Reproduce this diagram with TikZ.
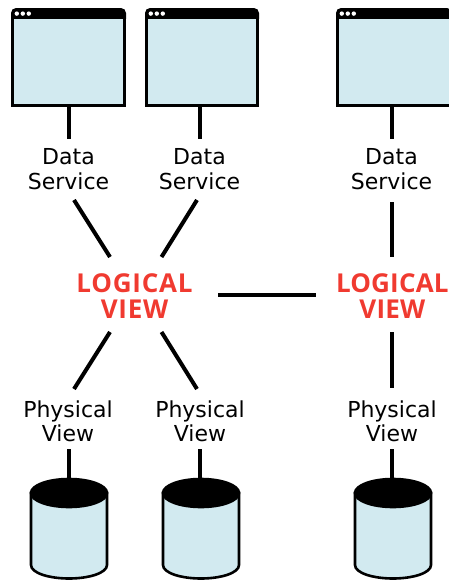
\documentclass[tikz,border=0pt]{standalone}
\usepackage{fontspec}
\setmainfont{DejaVu Sans}
\newfontfamily\logifont{Open Sans}
\definecolor{panel}{HTML}{D2EAF0}
\definecolor{logred}{HTML}{F03A30}
\tikzset{x=1pt,y=-1pt,
  conn/.style={line width=4pt},
  lab/.style={align=center,font=\fontsize{22}{24.3}\selectfont,inner sep=0pt,text=black},
  logi/.style={align=center,font=\logifont\fontsize{26}{25.6}\selectfont\bfseries\addfontfeature{LetterSpace=2.9},inner sep=0pt,text=logred},
  logitight/.style={logi,font=\logifont\fontsize{26}{25.6}\selectfont\bfseries\addfontfeature{LetterSpace=0.7}}}
\newcommand{\appwin}[4]{% name, left, right, connector x
  \path[fill=panel,draw=black,line width=3pt] (#2+1.5,16)--(#2+1.5,105.5)--(#3-1.5,105.5)--(#3-1.5,16)--cycle;
  \fill[black] (#2,18.9) [rounded corners=5pt] --(#2,8)--(#3,8) [sharp corners] --(#3,18.9)--cycle;
  \foreach \d in {0,1,2}{\fill[white] (#2+5.8+\d*6,13.6) circle (2.2pt);}
  \coordinate (#1) at (#4,107);
}
\newcommand{\drum}[2]{% name, center x
  \path[fill=panel,draw=black,line width=2.6pt] (#2-38,493)--(#2-38,565) .. controls (#2-38,573) and (#2-20,578.5) .. (#2,578.5) .. controls (#2+20,578.5) and (#2+38,573) .. (#2+38,565)--(#2+38,493)--cycle;
  \path[fill=black,draw=black,line width=2.6pt] (#2,493) ellipse [x radius=38,y radius=14];
  \coordinate (#1) at (#2,478);
}
\begin{document}
\begin{tikzpicture}
\useasboundingbox (0,0) rectangle (448,581);
\appwin{w1}{11}{126}{69}
\appwin{w2}{145}{259}{199.7}
\appwin{w3}{336}{452}{392}
\drum{c1}{69}
\drum{c2}{201}
\drum{c3}{393}
\node[lab] (d1) at (68.5,169) {Data\\Service};
\node[lab] (d2) at (199.5,169) {Data\\Service};
\node[lab] (d3) at (391.5,169) {Data\\Service};
\node[logi] (l1) at (134.5,296) {LOGICAL\\VIEW};
\node[logitight] (l2) at (392.3,296) {LOGICAL\\VIEW};
\node[lab] (p1) at (68,421) {Physical\\View};
\node[lab] (p2) at (200,421) {Physical\\View};
\node[lab] (p3) at (392,421) {Physical\\View};
\coordinate (d1t) at (69,139);
\coordinate (d2t) at (199.7,139);
\coordinate (d3t) at (392,139);
\coordinate (d1b) at (74,200);
\coordinate (d2b) at (197,200);
\coordinate (d3b) at (392,202);
\coordinate (l1a) at (110,257);
\coordinate (l1b) at (161.5,257);
\coordinate (l2t) at (392,257);
\coordinate (l1c) at (110,332);
\coordinate (l1d) at (161.5,332);
\coordinate (l2b) at (392,332);
\coordinate (p1t) at (74,389);
\coordinate (p2t) at (197,389);
\coordinate (p3t) at (392,388);
\coordinate (p1b) at (69,449);
\coordinate (p2b) at (199.7,449);
\coordinate (p3b) at (392,449);
\coordinate (c2t) at (199.7,480);
\coordinate (c3t) at (392,480);
\coordinate (l1r) at (218,295);
\coordinate (l2l) at (316,295);
\draw[conn] (w1) -- (d1t);
\draw[conn] (w2) -- (d2t);
\draw[conn] (w3) -- (d3t);
\draw[conn] (d1b) -- (l1a);
\draw[conn] (d2b) -- (l1b);
\draw[conn] (d3b) -- (l2t);
\draw[conn] (l1c) -- (p1t);
\draw[conn] (l1d) -- (p2t);
\draw[conn] (l2b) -- (p3t);
\draw[conn] (p1b) -- (c1);
\draw[conn] (p2b) -- (c2t);
\draw[conn] (p3b) -- (c3t);
\draw[conn] (l1r) -- (l2l);
\end{tikzpicture}
\end{document}
